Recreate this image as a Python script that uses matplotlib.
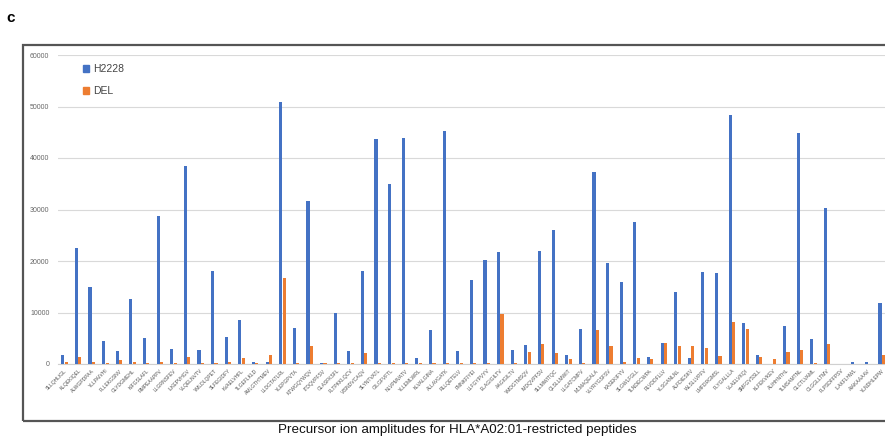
import matplotlib
matplotlib.use("Agg")
import matplotlib.pyplot as plt
from matplotlib.patches import Rectangle, Patch
import numpy as np

plt.rcParams['font.family'] = ['Liberation Sans', 'DejaVu Sans']

peptides = [
    "SLLQHLIGL", "KLQEKIQEL", "ALWGPDPAA", "YLLPAIVHI", "FLLEKGSNV", "GLYDGMEHL",
    "KIFGSLAFL", "RMPEAAPPV", "LLGRNSFEV", "ILKEPVHGV", "VLQELNVTV", "YMLDLQPET",
    "SLFEGIDFY", "KVAELVHFL", "TLGEFLKLD", "AMLGTHTMEV", "LLDGTATLRL", "YLEPGPVTA",
    "KTWGQYWQV", "ITDQVPFSV", "GLASFKSFL", "FLTPKKLQCV", "VISNDVCAQV", "SLYNTVATL",
    "GILGFVFTL", "NLVPMVATV", "YLLEMLWRL", "KLVALGINA", "ALLAVGATK", "RLLQETELV",
    "FMNKFIYEI", "LLFGYPVYV", "ELAGIGILTV", "AAGIGILTV", "YMDGTMSQV", "IMDQVPFSV",
    "SLLMWITQC", "QLSLLMWIT", "LLGATCMFV", "MLMAQEALA", "VLYRYGSFSV", "KASEKIFYV",
    "SLGWLFGLL", "TLNDECWPA", "RLVDDFLLV", "YLSGANLNL", "ALFDIESKV", "WLSLLVPFV",
    "LMFDRGMSL", "FLYGALLLA", "VLAELVKQI", "SMFGVSSLL", "KLFEKVKEV", "ALIHHNTHL",
    "TLMSAMTNL", "GLCTLVAML", "CLGGLLTMV", "FLPSDFFPSV", "ILAKFLHWL", "AIAKAAAAV",
    "YLNDHLEPW",
]

h2228 = [1750, 22500, 15000, 4500, 2600, 12600, 5000, 28800, 2900, 38400,
         2700, 18000, 5300, 8500, 450, 300, 50900, 7000, 31700, 200,
         10000, 2600, 18000, 43600, 34900, 43800, 1100, 6600, 45300, 2600,
         16300, 20100, 21800, 2700, 3600, 21900, 26000, 1700, 6800, 37200,
         19700, 16000, 27600, 1400, 4000, 13900, 1100, 17800, 17600, 48300,
         7900, 1700, 0, 7300, 44800, 4800, 30200, 0, 300, 300, 11800]

del_vals = [300, 1400, 300, 200, 800, 300, 100, 400, 100, 1400,
            200, 200, 300, 1100, 200, 1700, 16700, 200, 3400, 200,
            200, 100, 2200, 100, 200, 100, 100, 100, 100, 100,
            100, 100, 9700, 100, 2400, 3900, 2200, 1000, 100, 6600,
            3400, 300, 1100, 1000, 4000, 3400, 3400, 3200, 1500, 8200,
            6700, 1300, 1000, 2300, 2700, 200, 3900, 0, 0, 0, 1700]

yticks = [0, 10000, 20000, 30000, 40000, 50000, 60000]

W, H = 885, 441
fig = plt.figure(figsize=(W / 100, H / 100), dpi=100)

left_px, right_px, top_px, bot_px = 57.7, 888.5, 55, 364
ax = fig.add_axes([left_px / W, 1 - bot_px / H, (right_px - left_px) / W, (bot_px - top_px) / H])

x = np.arange(len(peptides))
bw = 0.23
ax.bar(x - 0.125, h2228, width=bw, color='#4472C4', label='H2228', zorder=3)
ax.bar(x + 0.125, del_vals, width=bw, color='#ED7D31', label='DEL', zorder=3)

ax.set_xlim(-0.5, len(peptides) - 0.5)
ax.set_ylim(0, 60000)
ax.set_yticks(yticks)
ax.set_yticklabels([str(v) for v in yticks], fontsize=5, color='#666666')
ax.set_xticks(x)
ax.set_xticklabels(peptides, rotation=45, ha='right', rotation_mode='anchor',
                   fontsize=3.6, color='#555555')
ax.tick_params(axis='both', length=0)
ax.tick_params(axis='y', pad=6)
ax.tick_params(axis='x', pad=3)
ax.grid(axis='y', color='#d9d9d9', linewidth=0.8, zorder=0)
for s in ['top', 'right', 'left']:
    ax.spines[s].set_visible(False)
ax.spines['bottom'].set_color('#d0d0d0')
ax.spines['bottom'].set_linewidth(0.8)

handles = [Patch(color='#4472C4', label='H2228'), Patch(color='#ED7D31', label='DEL')]
fig.legend(handles=handles, loc='upper left', bbox_to_anchor=(83 / W, 1 - 64 / H),
           frameon=False, fontsize=7.5, handlelength=0.6, handleheight=0.6,
           handletextpad=0.4, labelspacing=1.15, borderpad=0, borderaxespad=0,
           labelcolor='#444444')

frame = Rectangle((23 / W, 1 - 421 / H), 1.0, (421 - 45) / H, transform=fig.transFigure,
                  fill=False, edgecolor='#555555', linewidth=1.6, clip_on=False)
fig.add_artist(frame)

fig.text(11 / W, 1 - 17.5 / H, 'c', ha='center', va='center', fontsize=11, fontweight='bold')
fig.text(457 / W, 1 - 430 / H, 'Precursor ion amplitudes for HLA*A02:01-restricted peptides',
         ha='center', va='center', fontsize=9.6, color='#111111')

fig.savefig('out.png', dpi=100)
